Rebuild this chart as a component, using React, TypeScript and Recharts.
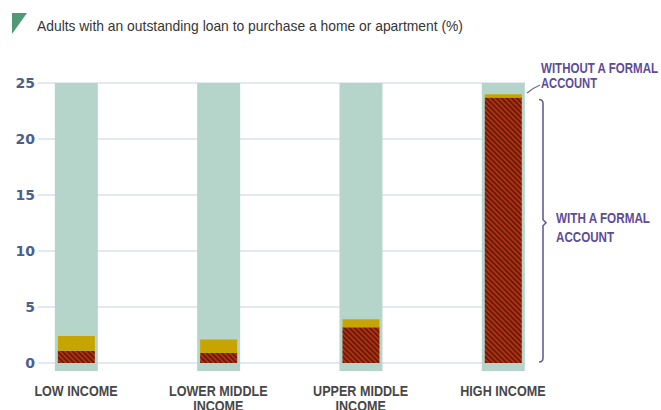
import React from 'react';
import { BarChart, Bar, XAxis, YAxis, CartesianGrid } from 'recharts';

const categories = ['LOW INCOME', 'LOWER MIDDLE INCOME', 'UPPER MIDDLE INCOME', 'HIGH INCOME'];
const labelLines = [['LOW INCOME'], ['LOWER MIDDLE', 'INCOME'], ['UPPER MIDDLE', 'INCOME'], ['HIGH INCOME']];
const withAccount = [1.1, 0.9, 3.2, 23.7];
const withoutAccount = [1.3, 1.2, 0.7, 0.3];
const scaleMax = 25;
const yTicks = [0, 5, 10, 15, 20, 25];

const data = categories.map((name, i) => ({
  idx: i,
  name,
  withAcc: withAccount[i],
  withoutAcc: withoutAccount[i],
  total: scaleMax,
}));

const W = 661;
const H = 410;
const TOP = 83;
const BOTTOM = 363;
const Y_AXIS_W = 38;
const RIGHT = 525;
// x domain chosen so that category centres fall on the reference's spacing
const X_DOMAIN: [number, number] = [-0.267, 3.155];

const NARROW = "'Liberation Sans Narrow', 'Arial Narrow', 'Liberation Sans', Arial, sans-serif";
const PURPLE = '#5d4c98';

const yPx = (v: number) => TOP + ((scaleMax - v) / scaleMax) * (BOTTOM - TOP);

// light backing bar runs a little below zero
const BgShape = (props: any) => {
  const { x, y, width, height, fill } = props;
  return <rect x={x} y={y} width={width} height={height + 8} fill={fill} />;
};

const CategoryTick = (props: any) => {
  const { x, y, payload } = props;
  const lines = labelLines[payload.value] || [];
  return (
    <g transform={`translate(${x},${y}) scale(0.84,1)`}>
      {lines.map((l, k) => (
        <text
          key={k}
          x={0}
          y={31 + k * 15}
          textAnchor="middle"
          fill="#474747"
          fontSize={15}
          fontWeight="bold"
          fontFamily={NARROW}
        >
          {l}
        </text>
      ))}
    </g>
  );
};

export default function App() {
  const top = yPx(withAccount[3]) + 2;
  const bot = yPx(0) - 1;
  const mid = (top + bot) / 2 - 8;
  const bx = 543;
  return (
    <div style={{ position: 'absolute', left: 0, top: 0, width: W, height: H, background: '#fff', overflow: 'hidden' }}>
      <svg width={0} height={0} style={{ position: 'absolute' }}>
        <defs>
          <pattern id="hatch" patternUnits="userSpaceOnUse" width={3.6} height={3.6} patternTransform="rotate(-45)">
            <rect width={3.6} height={3.6} fill="#b0320f" />
            <rect width={1.6} height={3.6} fill="#5e170a" />
          </pattern>
        </defs>
      </svg>
      <BarChart
        width={W}
        height={H}
        data={data}
        margin={{ top: TOP, right: W - RIGHT, bottom: 0, left: 0 }}
        style={{ position: 'absolute', left: 0, top: 0 }}
      >
        <CartesianGrid horizontal vertical={false} stroke="#c9d3e2" strokeWidth={1.2} />
        <XAxis
          dataKey="idx"
          type="number"
          domain={X_DOMAIN}
          ticks={[0, 1, 2, 3]}
          tick={<CategoryTick />}
          tickLine={false}
          axisLine={false}
          tickSize={0}
          height={H - BOTTOM}
          interval={0}
        />
        <XAxis xAxisId="bg" dataKey="idx" type="number" domain={X_DOMAIN} ticks={[0, 1, 2, 3]} hide />
        <YAxis
          domain={[0, scaleMax]}
          ticks={yTicks}
          width={Y_AXIS_W}
          tickLine={false}
          axisLine={false}
          tickSize={0}
          tickMargin={3}
          tick={{ fill: '#4a6190', fontSize: 14, fontWeight: 'bold', fontFamily: "'DejaVu Sans', sans-serif" }}
        />
        <Bar xAxisId="bg" dataKey="total" fill="#b6d5ca" barSize={43} shape={<BgShape />} isAnimationActive={false} />
        <Bar dataKey="withAcc" stackId="s" fill="url(#hatch)" barSize={37} isAnimationActive={false} />
        <Bar dataKey="withoutAcc" stackId="s" fill="#c6a500" barSize={37} isAnimationActive={false} />
      </BarChart>
      <svg width={W} height={H} style={{ position: 'absolute', left: 0, top: 0, pointerEvents: 'none' }}>
        <polygon points="12,13 27,13 12,34" fill="#4f9a74" />
        <text
          x={37}
          y={31}
          fontSize={15}
          fill="#353535"
          fontFamily={NARROW}
          textLength={426}
          lengthAdjust="spacingAndGlyphs"
        >
          Adults with an outstanding loan to purchase a home or apartment (%)
        </text>

        <g fill={PURPLE} fontSize={14} fontWeight="bold" fontFamily={NARROW}>
          <text x={541} y={73} textLength={117} lengthAdjust="spacingAndGlyphs">WITHOUT A FORMAL</text>
          <text x={541} y={88} textLength={56} lengthAdjust="spacingAndGlyphs">ACCOUNT</text>
          <text x={556} y={223} textLength={94} lengthAdjust="spacingAndGlyphs">WITH A FORMAL</text>
          <text x={556} y={242} textLength={58} lengthAdjust="spacingAndGlyphs">ACCOUNT</text>
        </g>
        <path d="M 527 93 Q 533 88 540 85" stroke="#6b6a8a" strokeWidth={1.2} fill="none" />
        <path
          d={`M ${bx - 4} ${top} Q ${bx} ${top} ${bx} ${top + 4} L ${bx} ${mid - 3} L ${bx + 3} ${mid} L ${bx} ${mid + 3} L ${bx} ${bot - 4} Q ${bx} ${bot} ${bx - 4} ${bot}`}
          stroke="#6a5a9c"
          strokeWidth={1.6}
          fill="none"
        />
      </svg>
    </div>
  );
}
